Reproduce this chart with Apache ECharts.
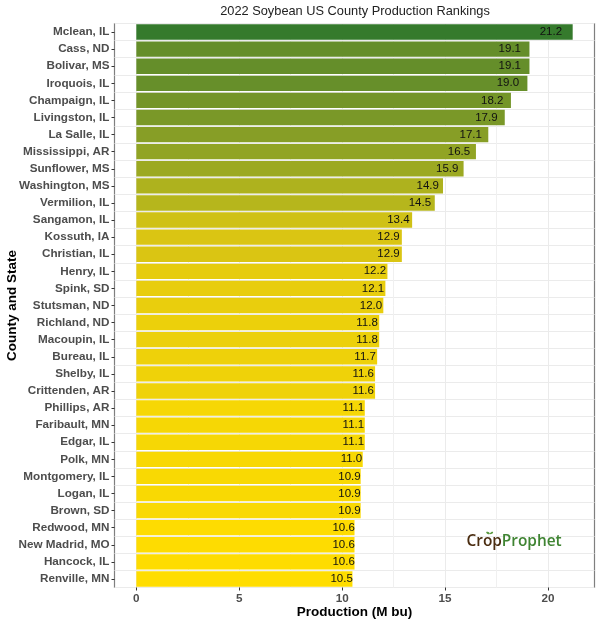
<!DOCTYPE html>
<html><head><meta charset="utf-8">
<style>html,body{margin:0;padding:0;background:#fff}#c{width:600px;height:624px}</style>
<script src="https://cdn.jsdelivr.net/npm/echarts@6/dist/echarts.min.js"></script>
</head><body><div id="c"></div>
<script>
const counties = ["Mclean, IL","Cass, ND","Bolivar, MS","Iroquois, IL","Champaign, IL","Livingston, IL","La Salle, IL","Mississippi, AR","Sunflower, MS","Washington, MS","Vermilion, IL","Sangamon, IL","Kossuth, IA","Christian, IL","Henry, IL","Spink, SD","Stutsman, ND","Richland, ND","Macoupin, IL","Bureau, IL","Shelby, IL","Crittenden, AR","Phillips, AR","Faribault, MN","Edgar, IL","Polk, MN","Montgomery, IL","Logan, IL","Brown, SD","Redwood, MN","New Madrid, MO","Hancock, IL","Renville, MN"];
const production = [21.2,19.1,19.1,19.0,18.2,17.9,17.1,16.5,15.9,14.9,14.5,13.4,12.9,12.9,12.2,12.1,12.0,11.8,11.8,11.7,11.6,11.6,11.1,11.1,11.1,11.0,10.9,10.9,10.9,10.6,10.6,10.6,10.5];
const majorTicks = [0,5,10,15,20];
const minorTicks = [2.5,7.5,12.5,17.5];
const rampColors = ["#FFDD00","#E0C812","#B0B31E","#8AA026","#668E2A","#357A2C"];
const font = "Liberation Sans";
const chart = echarts.init(document.getElementById('c'), null, {renderer:'canvas'});
chart.setOption({
  animation:false,
  textStyle:{fontFamily:font},
  title:{text:"2022 Soybean US County Production Rankings",left:350,top:0,textAlign:'center',
    textStyle:{fontFamily:font,fontSize:12.8,fontWeight:'normal',color:'#222'}},
  grid:{left:114.5,right:5.5,top:23.5,height:564,show:true,borderColor:'#7f7f7f',borderWidth:1.2,backgroundColor:'#fff',outerBoundsMode:'none'},
  visualMap:{show:false,type:'continuous',dimension:0,seriesIndex:0,min:10.5,max:21.2,inRange:{color:rampColors}},
  xAxis:[{type:'value',min:-1.06,max:22.26,
    name:"Production (M bu)",nameLocation:'middle',nameGap:18,nameMoveOverlap:false,
    nameTextStyle:{fontFamily:font,fontWeight:'bold',fontSize:13.5,color:'#000'},
    axisLine:{show:false,onZero:false},
    axisTick:{show:true,length:3,lineStyle:{color:'#333'},customValues:majorTicks},
    axisLabel:{fontFamily:font,fontWeight:'bold',fontSize:11.7,color:'#4d4d4d',margin:5,customValues:majorTicks},
    splitLine:{show:true,lineStyle:{color:'#ebebeb',width:1}}},
   {type:'value',position:'top',min:-1.06,max:22.26,
    axisLine:{show:false,onZero:false},
    axisTick:{show:false,customValues:minorTicks},
    axisLabel:{show:false,customValues:minorTicks},
    splitLine:{show:true,lineStyle:{color:'#f0f0f0',width:1}}}],
  yAxis:{type:'category',inverse:true,data:counties,
    name:"County and State",nameLocation:'middle',nameGap:95,nameMoveOverlap:false,nameRotate:90,
    nameTextStyle:{fontFamily:font,fontWeight:'bold',fontSize:13.5,color:'#000'},
    axisLine:{show:false,onZero:false},
    axisTick:{show:true,alignWithLabel:true,length:3,lineStyle:{color:'#333'}},
    axisLabel:{fontFamily:font,fontWeight:'bold',fontSize:11.7,color:'#4d4d4d',margin:5,interval:0},
    splitLine:{show:true,interval:0,lineStyle:{color:'#ebebeb',width:1}}},
  series:[{type:'bar',xAxisIndex:0,data:production,barWidth:'90%',
    label:{show:true,position:['95%','50%'],align:'center',verticalAlign:'middle',
      fontFamily:font,fontSize:11.5,color:'#111',formatter:p=>p.value.toFixed(1)}}],
  graphic:[
    {type:'text',left:466.5,top:534,z:100,
     style:{rich:{a:{fill:'#4a2c10',fontFamily:'Open Sans',fontSize:15.4,fontWeight:600},
                  b:{fill:'#3f8432',fontFamily:'Open Sans',fontSize:15.4,fontWeight:600}},
            text:'{a|Crop}{b|Prophet}'}},
    {type:'ellipse',z:101,shape:{cx:488,cy:533,rx:2,ry:1},style:{fill:'#5a9a40'},rotation:-0.5,originX:488,originY:533},
    {type:'ellipse',z:101,shape:{cx:491.5,cy:533,rx:1.8,ry:0.9},style:{fill:'#5a9a40'},rotation:0.5,originX:491.5,originY:533}
  ]
});
</script></body></html>
